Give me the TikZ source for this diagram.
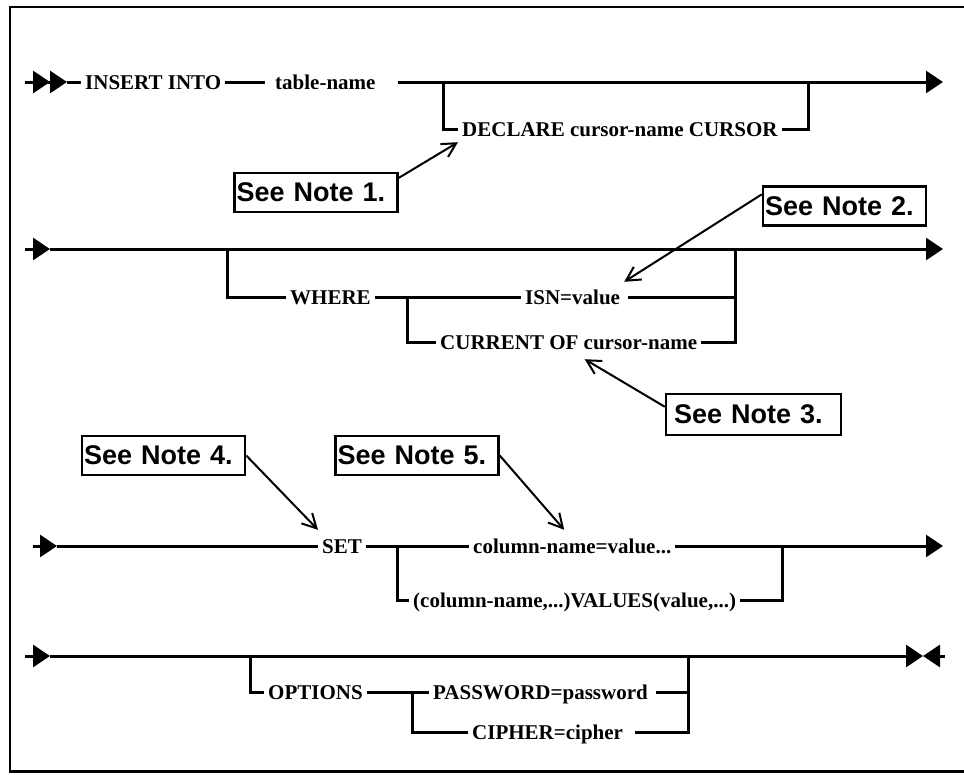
\documentclass[tikz,border=0pt]{standalone}
\usepackage{fontspec}
\setmainfont{Liberation Serif}
\newfontfamily\notefont{Liberation Sans}
\usetikzlibrary{arrows.meta,positioning}

\begin{document}
\begin{tikzpicture}[
  x=1pt, y=-1pt,
  rail/.style={line width=3pt},
  kw/.style={anchor=west, inner xsep=4pt, inner ysep=0pt, text height=14pt, text depth=0pt, font=\bfseries\fontsize{21}{21}\selectfont},
  note/.style={draw, line width=2.5pt, inner xsep=2pt, inner ysep=0pt, text width=159pt, align=left, minimum height=39pt, font=\notefont\bfseries\fontsize{27}{27}\selectfont},
  pointer/.style={line width=2pt, -{Straight Barb[length=14pt,width=15pt]}},
  railhead/.style={-{Triangle[length=17pt,width=22pt]}},
  railheadtwo/.style={-{Triangle[length=17pt,width=22pt]Triangle[length=17pt,width=22pt]}}
]
\useasboundingbox (0,0) rectangle (964,774);
\draw[line width=2.5pt] (964,7) -- (10,7) -- (10,771.5) -- (964,771.5);

\coordinate (r1a) at (25,82);
\coordinate (r1b) at (67,82);
\coordinate (r1j) at (443,82);
\coordinate (r1k) at (808,82);
\coordinate (r1e) at (943,82);
\node[kw] (insert) at (81,82) {INSERT INTO};
\node[kw] (tname) at (271,82) {table-name};
\node[kw] (declare) at (458,129) {DECLARE cursor-name CURSOR};
\node[note] (note1) at (316,192.5) {See Note 1.};

\draw[rail, railheadtwo] (r1a) -- (r1b);
\draw[rail] (r1b) -- (insert.west);
\draw[rail] (insert.east) -- ([xshift=-6pt]tname.west);
\draw[rail, railhead] ([xshift=18pt]tname.east) -- (r1e);
\draw[rail] (r1j) |- (declare.west);
\draw[rail] (declare.east) -| (r1k);
\draw[pointer] (note1.10) -- ([yshift=-6pt]declare.south west);

\coordinate (r2a) at (25,249);
\coordinate (r2b) at (50,249);
\coordinate (r2j) at (227,249);
\coordinate (r2k) at (735,249);
\coordinate (r2e) at (943,249);
\coordinate (r2m) at (407,297);
\node[kw] (where) at (286,297) {WHERE};
\node[kw] (isn) at (521,297) {ISN=value};
\node[kw] (current) at (436,342) {CURRENT OF cursor-name};
\node[note] (note2) at (844.5,206) {See Note 2.};
\node[note, inner xsep=8pt, minimum height=41pt] (note3) at (753.5,414.5) {See Note 3.};

\draw[rail, railhead] (r2a) -- (r2b);
\draw[rail, railhead] (r2b) -- (r2e);
\draw[rail] (r2j) |- (where.west);
\draw[rail] (where.east) -- (isn.west);
\draw[rail] ([xshift=4pt]isn.east) -| (r2k);
\draw[rail] (r2m) |- (current.west);
\draw[rail] (current.east) -| (r2k);
\draw[pointer] (note2.172) -- ([yshift=8pt]isn.north east);
\draw[pointer] (note3.175) -- ([xshift=16pt,yshift=-10pt]current.south);

\coordinate (r3a) at (33,546);
\coordinate (r3b) at (57,546);
\coordinate (r3j) at (397,546);
\coordinate (r3k) at (782,546);
\coordinate (r3e) at (943,546);
\node[kw] (set) at (318,546) {SET};
\node[kw] (colv) at (469,546) {column-name=value...};
\node[kw] (valv) at (409,600) {(column-name,...)VALUES(value,...)};
\node[note] (note4) at (163.5,455.5) {See Note 4.};
\node[note, right=88pt of note4] (note5) {See Note 5.};

\draw[rail, railhead] (r3a) -- (r3b);
\draw[rail] (r3b) -- (set.west);
\draw[rail] (set.east) -- (colv.west);
\draw[rail, railhead] (colv.east) -- (r3e);
\draw[rail] (r3j) |- (valv.west);
\draw[rail] (valv.east) -| (r3k);
\draw[pointer] (note4.east) -- ([yshift=9pt]set.north west);
\draw[pointer] (note5.east) -- ([xshift=-8pt,yshift=9pt]colv.north);

\coordinate (r4a) at (25,656);
\coordinate (r4b) at (50,656);
\coordinate (r4j) at (250,656);
\coordinate (r4k) at (688,656);
\coordinate (r4m) at (412,692);
\coordinate (r4c) at (923,656);
\coordinate (r4e) at (945,656);
\node[kw] (opts) at (264,692) {OPTIONS};
\node[kw] (pwd) at (429,692) {PASSWORD=password};
\node[kw] (ciph) at (468,732) {CIPHER=cipher};

\draw[rail, railhead] (r4a) -- (r4b);
\draw[rail, railhead] (r4b) -- (r4c);
\draw[rail, railhead] (r4e) -- (r4c);
\draw[rail] (r4j) |- (opts.west);
\draw[rail] (opts.east) -- (pwd.west);
\draw[rail] ([xshift=4pt]pwd.east) -| (r4k);
\draw[rail] (r4m) |- (ciph.west);
\draw[rail] ([xshift=8pt]ciph.east) -| (r4k);
\end{tikzpicture}
\end{document}
